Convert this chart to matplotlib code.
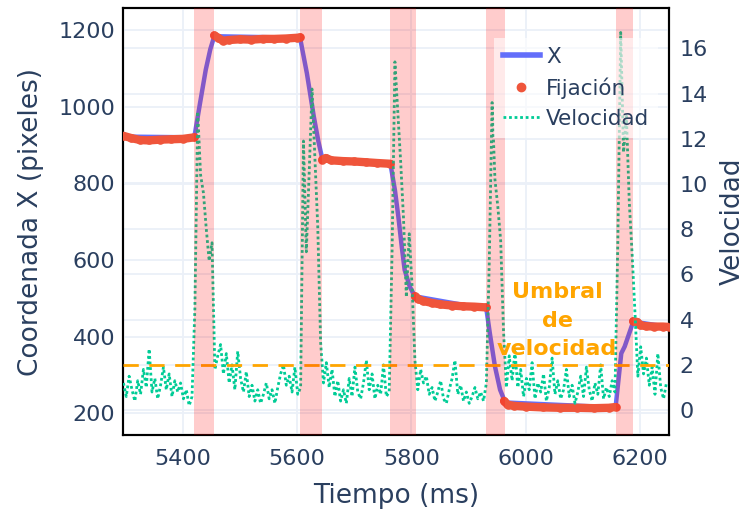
import numpy as np
import matplotlib
matplotlib.use("Agg")
import matplotlib.pyplot as plt
from matplotlib.lines import Line2D

# gaze X trace (pixels) over time (ms)
gaze_t = [5296, 5420, 5430, 5440, 5448, 5455, 5605, 5617, 5629, 5637, 5644,
          5763, 5771, 5777, 5783, 5788, 5797, 5806, 5931, 5937, 5946, 5955,
          5961, 5963, 6157, 6167, 6173, 6188, 6250]
gaze_v = [922, 920, 1009, 1096, 1150, 1184, 1180, 1087, 975, 910, 864,
          852, 782, 713, 634, 574, 530, 505, 472, 409, 322, 261,
          239, 228, 215, 356, 374, 439, 425]

# fixation samples, one list per fixation
fix_t = [
    [5296, 5310, 5325, 5340, 5360, 5380, 5400, 5420],
    [5455, 5462, 5470, 5480, 5500, 5520, 5540, 5560, 5580, 5600, 5605],
    [5644, 5650, 5660, 5680, 5700, 5720, 5740, 5763],
    [5806, 5812, 5820, 5835, 5850, 5870, 5890, 5910, 5931],
    [5962, 5968, 5980, 6000, 6030, 6060, 6090, 6120, 6145, 6157],
    [6188, 6195, 6200, 6210, 6225, 6240, 6250],
]
fix_v = [
    [924, 918, 913, 912, 914, 915, 916, 920],
    [1186, 1180, 1172, 1174, 1176, 1175, 1177, 1177, 1178, 1180, 1181],
    [862, 866, 860, 858, 857, 855, 853, 851],
    [505, 498, 493, 488, 484, 481, 479, 478, 476],
    [232, 222, 219, 217, 215, 214, 214, 213, 214, 216],
    [440, 438, 430, 427, 426, 426, 425],
]

# velocity, one sample every 5 ms from 5296 ms
vel_t0 = 5296
vel_dt = 5
velocity = [
    1.2, 0.6, 1.5, 0.9, 0.4, 1.3, 0.7, 1.8, 1.0, 2.7, 0.8, 1.4, 0.5, 1.1, 1.9,
    0.9, 1.6, 0.6, 1.3, 0.8, 1.2, 0.5, 0.9, 0.2, 0.6,
    4.5, 13.2, 10.4, 9.6, 8.0, 6.6, 7.4, 1.8, 2.4,
    2.9, 1.6, 2.5, 1.2, 2.0, 0.9, 2.6, 1.4, 0.8, 1.7, 0.6, 1.1, 0.4, 0.9, 0.3,
    0.7, 1.2, 0.5, 0.9, 0.3, 1.0, 1.6, 2.0, 1.1, 1.5, 0.8, 1.9, 0.7,
    1.0, 11.9, 7.0, 10.5, 14.2, 11.2, 8.1, 3.0, 1.2,
    2.1, 1.0, 1.8, 0.6, 1.3, 0.4, 0.9, 0.3, 1.4, 0.6, 1.9, 0.8, 0.5, 1.2, 2.2,
    0.9, 1.6, 0.5, 1.1, 0.7, 2.0, 0.6,
    0.8, 7.0, 15.4, 13.2, 11.0, 8.5, 5.0, 7.8, 5.5, 2.2, 0.9,
    1.8, 1.2, 1.5, 0.7, 1.0, 0.4, 0.8, 1.3, 0.5, 0.3, 0.9, 1.4, 2.2, 0.7, 1.1,
    0.4, 0.8, 0.3, 0.6, 1.0, 0.5, 0.8, 0.4,
    1.2, 6.5, 13.6, 10.2, 9.0, 7.5, 3.5, 1.0,
    2.4, 1.3, 2.6, 1.0, 1.8, 0.6, 1.4, 0.9, 2.1, 0.5, 1.2, 0.8, 1.6, 0.4, 1.0,
    2.3, 0.7, 1.3, 0.5, 0.9, 1.8, 0.6, 1.1, 0.3, 0.8, 1.5, 0.6, 1.9, 0.9, 0.4,
    1.2, 0.7, 2.0, 0.5, 1.0, 0.6, 1.3,
    0.8, 7.5, 16.7, 11.4, 13.0, 9.2, 6.9, 4.3, 1.5,
    2.8, 1.6, 2.3, 1.1, 1.9, 0.7, 2.5, 1.0, 0.5, 1.2,
]
vel_t = vel_t0 + vel_dt * np.arange(len(velocity))

# saccade intervals (ms)
sacc_start = [5420, 5605, 5763, 5931, 6157]
sacc_end = [5455, 5644, 5808, 5963, 6188]

threshold = 2

TEXT = '#2a3f5f'
GRID = '#EBF0F8'

fig, ax = plt.subplots(figsize=(7.48, 5.16), dpi=100)
fig.subplots_adjust(left=0.165, right=0.894, top=0.984, bottom=0.157)
ax2 = ax.twinx()
ax.set_zorder(ax2.get_zorder() + 1)
ax.patch.set_visible(False)

xlim = (5296, 6250)
ax.set_xlim(*xlim)
ax.set_ylim(143, 1257)
ax2.set_ylim(-1.1, 17.77)
ax.set_xticks([5400, 5600, 5800, 6000, 6200])
ax.set_yticks([200, 400, 600, 800, 1000, 1200])
ax2.set_yticks(range(0, 17, 2))

ax.grid(True, color=GRID, lw=1.3)
ax.set_axisbelow(True)
ax2.grid(True, axis='y', color=GRID, lw=1.3)

ax.plot(gaze_t, gaze_v, color='#636EFA', lw=3.2, zorder=2, solid_capstyle='round')
for t, v in zip(fix_t, fix_v):
    ax.plot(t, v, color='#EF553B', lw=6, marker='o', ms=6.2, mew=0,
            solid_capstyle='round', zorder=3)
vtr = ax2.transData
ax.plot(vel_t, velocity, color='#00CC96', lw=2.0, linestyle=(0, (1, 1)),
        transform=vtr, zorder=4)
ax.plot(xlim, [threshold, threshold], color='#FFA500', lw=2,
        linestyle=(0, (5.5, 3.8)), transform=vtr, zorder=4)
for s, e in zip(sacc_start, sacc_end):
    ax.axvspan(s, e, color='red', alpha=0.2, lw=0, zorder=5)

ax.text(6055, 3.95, 'Umbral\nde\nvelocidad', transform=vtr, color='#FFA500',
        fontsize=16, fontweight='bold', ha='center', va='center',
        linespacing=1.52, zorder=6)

for a in (ax, ax2):
    a.tick_params(length=0, labelsize=16, labelcolor=TEXT)
    for sp in a.spines.values():
        sp.set_color('black')
        sp.set_linewidth(1.5)
ax.tick_params(axis='y', pad=6)
ax.tick_params(axis='x', pad=10)
ax2.tick_params(axis='y', pad=8)

ax.set_xlabel('Tiempo (ms)', fontsize=19, color=TEXT)
ax.set_ylabel('Coordenada X (pixeles)', fontsize=19, color=TEXT)
ax2.set_ylabel('Velocidad', fontsize=19, color=TEXT)
ax.xaxis.set_label_coords(0.5, -0.143)
ax.xaxis.label.set_va('center')
ax.yaxis.set_label_coords(-0.17, 0.5)
ax.yaxis.label.set_va('center')
ax2.yaxis.set_label_coords(1.117, 0.5)
ax2.yaxis.label.set_va('center')

handles = [
    Line2D([], [], color='#636EFA', lw=4),
    Line2D([], [], color='#EF553B', lw=0, marker='o', ms=6),
    Line2D([], [], color='#00CC96', lw=2, linestyle=(0, (1, 1))),
]
leg = ax.legend(handles, ['X', 'Fijación', 'Velocidad'], loc='upper right',
                bbox_to_anchor=(1.0, 0.955), fontsize=15.5, handlelength=1.7,
                handletextpad=0.3, labelspacing=0.48, borderpad=0.4,
                frameon=True, fancybox=False, facecolor='white',
                framealpha=0.6, edgecolor='none')
for txt in leg.get_texts():
    txt.set_color(TEXT)
leg.set_zorder(10)

fig.savefig('out.png', dpi=100)
